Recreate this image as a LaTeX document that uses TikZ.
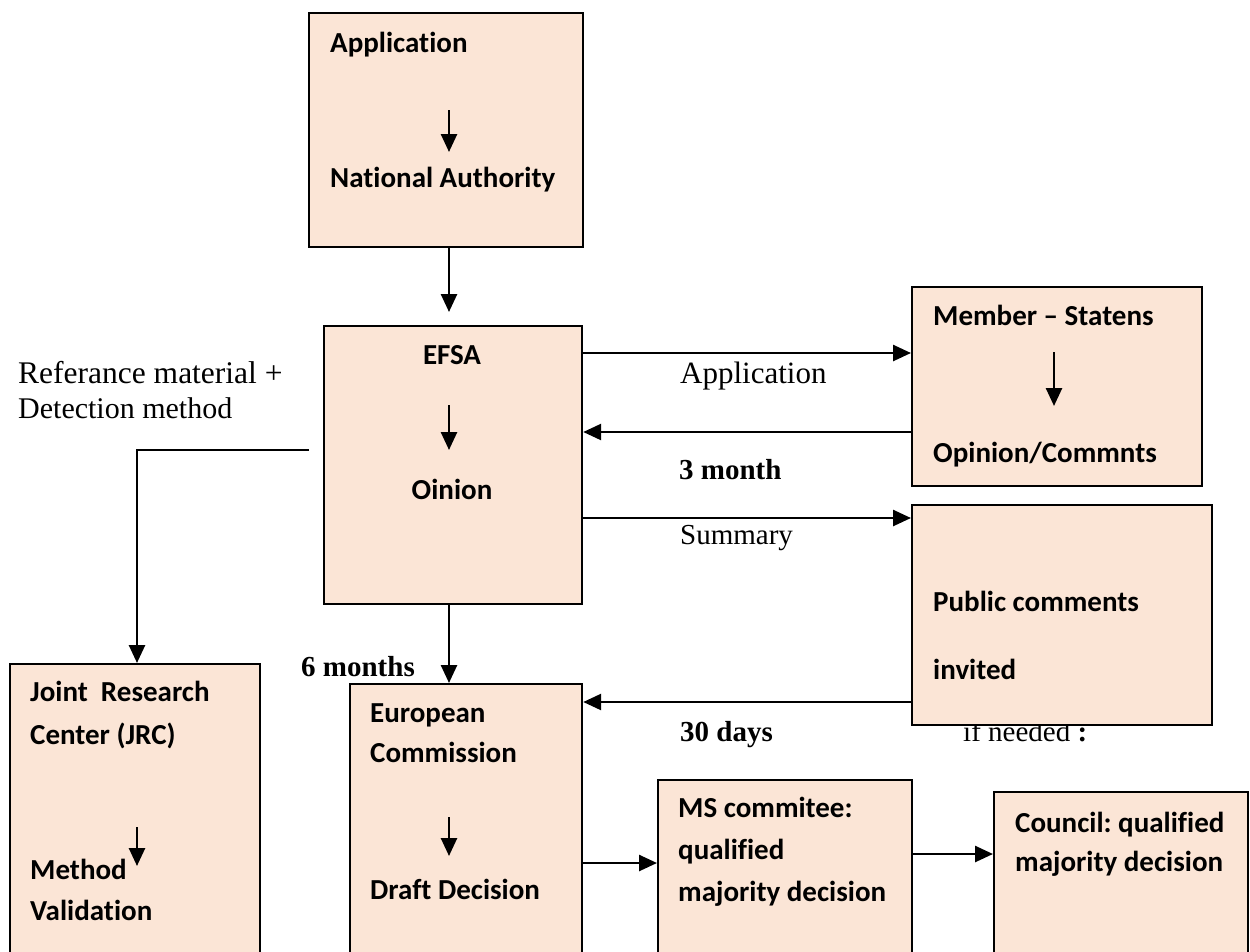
\documentclass[tikz,border=0pt]{standalone}
\usepackage{fontspec}
\setmainfont{Liberation Serif}
\newfontfamily\cb{Carlito}[Ligatures={NoCommon,NoContextual}]
\usetikzlibrary{arrows.meta}
\definecolor{peach}{HTML}{FBE5D6}
\frenchspacing
\tikzset{
  box/.style={draw=black, fill=peach, line width=2.2pt, inner sep=0pt, anchor=north west},
  lbl/.style={font=\cb\bfseries\fontsize{29}{35}\selectfont, inner sep=0pt, anchor=base west},
  lblc/.style={lbl, anchor=base},
  ser/.style={font=\fontsize{30}{36}\selectfont, inner sep=0pt, anchor=base west},
  serb/.style={font=\bfseries\fontsize{29}{35}\selectfont, inner sep=0pt, anchor=base west},
  arr/.style={line width=2.6pt, -{Triangle[length=18pt,width=16pt]}},
}
\begin{document}
\begin{tikzpicture}[x=1pt,y=-1pt]
\useasboundingbox (0,0) rectangle (1250,951);
\clip (0,0) rectangle (1250,951);

% boxes
\node[box, minimum width=274pt, minimum height=234pt] (app) at (308,12) {};
\node[box, minimum width=258pt, minimum height=278pt] (efsa) at (323,325) {};
\node[box, minimum width=290pt, minimum height=199pt] (member) at (911,286) {};
\node[box, minimum width=250pt, minimum height=320pt] (jrc) at (9,663) {};
\node[box, minimum width=232pt, minimum height=300pt] (ec) at (349,683) {};
\node[box, minimum width=254pt, minimum height=200pt] (ms) at (657,779) {};
\node[box, minimum width=254pt, minimum height=200pt] (council) at (993,791) {};

% text hidden partly by the public box
\node[ser, font=\fontsize{29}{35}\selectfont] (ifneeded) at (963,741) {if needed \textbf{:}};
\node[box, minimum width=300pt, minimum height=220pt] (public) at (911,504) {};

% box texts
\node[lbl] (tApp) at (330,52) {Application};
\node[lbl] (tNat) at (330,187) {National Authority};
\coordinate (a1s) at (449,110); \coordinate (a1e) at (449,152);

\node[lblc] (tEfsa) at (452,364) {EFSA};
\node[lblc] (tOin) at (452,499) {Oinion};
\coordinate (a2s) at (449,405); \coordinate (a2e) at (449,450);

\node[lbl] (tMem) at (933,325) {Member – Statens};
\node[lbl] (tOpi) at (933,462) {Opinion/Commnts};
\coordinate (a3s) at (1054,352); \coordinate (a3e) at (1054,406);

\node[lbl] (tPub1) at (933,611) {Public comments};
\node[lbl] (tPub2) at (933,679) {invited};

\node[lbl] (tJrc1) at (30,701) {Joint\ \ Research};
\node[lbl] (tJrc2) at (30,744) {Center (JRC)};
\node[lbl] (tJrc3) at (30,879) {Method};
\node[lbl] (tJrc4) at (30,920) {Validation};
\coordinate (a4s) at (137,827); \coordinate (a4e) at (137,866);

\node[lbl] (tEc1) at (370,722) {European};
\node[lbl] (tEc2) at (370,762) {Commission};
\node[lbl] (tEc3) at (370,899) {Draft Decision};
\coordinate (a5s) at (449,817); \coordinate (a5e) at (449,856);

\node[lbl] (tMs1) at (678,817) {MS commitee:};
\node[lbl] (tMs2) at (678,859) {qualified};
\node[lbl] (tMs3) at (678,901) {majority decision};

\node[lbl] (tCo1) at (1015,832) {Council: qualified};
\node[lbl] (tCo2) at (1015,871) {majority decision};

% inner arrows
\draw[arr] (a1s) -- (a1e);
\draw[arr] (a2s) -- (a2e);
\draw[arr] (a3s) -- (a3e);
\draw[arr] (a4s) -- (a4e);
\draw[arr] (a5s) -- (a5e);

% free labels
\node[ser, font=\fontsize{31.5}{36}\selectfont] (ref1) at (18,383) {Referance material +};
\node[ser] (ref2) at (18,418) {Detection method};
\node[ser, font=\fontsize{31}{36}\selectfont] (lApp) at (680,383) {Application};
\node[serb] (l3m) at (679,479) {3 month};
\node[ser, font=\fontsize{29}{35}\selectfont] (lSum) at (680,544) {Summary};
\node[serb] (l6m) at (301,676) {6 months};
\node[serb] (l30) at (680,741) {30 days};

% connectors
\draw[arr, shorten >=13pt] (app.south -| 449,0) -- (efsa.north -| 449,0);
\draw[arr] (efsa.south -| 449,0) -- (ec.north -| 449,0);
\draw[arr] (efsa.east |- 0,353) -- (member.west |- 0,353);
\draw[arr] (member.west |- 0,432) -- (efsa.east |- 0,432);
\draw[arr] (efsa.east |- 0,518) -- (public.west |- 0,518);
\draw[arr] (public.west |- 0,702) -- (ec.east |- 0,702);
\coordinate (jstart) at (309,450);
\draw[arr] (jstart) -| (jrc.north -| 137,0);
\draw[arr] (ec.east |- 0,863) -- (ms.west |- 0,863);
\draw[arr] (ms.east |- 0,854) -- (council.west |- 0,854);
\end{tikzpicture}
\end{document}
